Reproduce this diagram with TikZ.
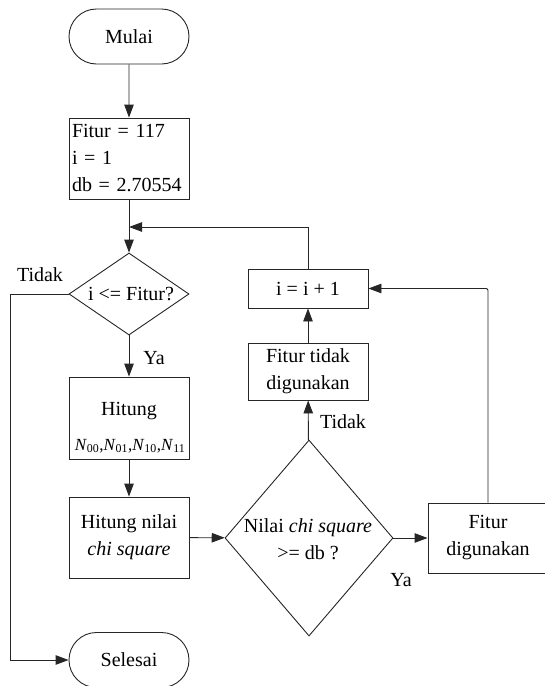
\documentclass[tikz,border=0pt]{standalone}
\usepackage{fontspec}
\setmainfont{Liberation Serif}
\usetikzlibrary{shapes.geometric,shapes.misc,arrows.meta}
\begin{document}
\begin{tikzpicture}[x=1pt,y=-1pt,
  every node/.style={font=\fontsize{20}{27}\selectfont, inner sep=0pt},
  line/.style={draw=black!85, line width=0.9pt},
  arr/.style={line, -{Triangle[length=13pt,width=9.5pt]}},
  shp/.style={draw=black!85, line width=0.9pt},
  box/.style={shp, rectangle, minimum width=120pt, align=center},
  term/.style={shp, rounded rectangle, minimum width=120pt, minimum height=55pt},
  dec/.style={shp, diamond, inner sep=0pt},
  txt/.style={align=center}]
\useasboundingbox (0,0) rectangle (545,686);
% nodes
\node[term] (mulai) at (129,36.5) {Mulai};
\node[box, minimum height=81pt, text width=114pt, inner xsep=3pt, align=left] (init) at (129,158.5) {Fitur = 117\\ i = 1\\ db = 2.70554};
\coordinate (join) at (129,227);
\node[dec, minimum width=120pt, minimum height=82pt] (d1) at (129,294) {};
\node (d1t) at (131,294) {i <= Fitur?};
\node[box, minimum height=82pt] (hit) at (129,418) {};
\node (hitA) at (129,411) {Hitung};
\node (hitB) at (130,446) {\fontsize{17}{20}\selectfont\textit{N}\textsubscript{00},\textit{N}\textsubscript{01},\textit{N}\textsubscript{10},\textit{N}\textsubscript{11}};
\node[box, minimum height=81pt] (hn) at (129,537.5) {Hitung nilai\\\textit{chi square}};
\node[dec, minimum width=168pt, minimum height=196pt] (d2) at (309,538) {};
\node[txt] (d2t) at (308,539) {Nilai \textit{chi square}\\>= db ?};
\node[box, minimum height=70pt] (fd) at (488,538) {Fitur\\digunakan};
\node[box, minimum height=57pt] (ftd) at (308,371.5) {Fitur tidak\\digunakan};
\node[box, minimum height=39pt] (inc) at (308,288.5) {i = i + 1};
\node[term] (sel) at (129,660) {Selesai};
% labels
\node (tid1) at (40,275) {Tidak};
\node (ya1) at (154,358) {Ya};
\node (tid2) at (343,422) {Tidak};
\node (ya2) at (401,580) {Ya};
% connectors
\coordinate (lft) at (10,294);
\draw[arr] (mulai) -- (init);
\draw[arr] (init) -- (d1);
\draw[arr] (inc.north) |- (join);
\draw[arr] (d1) -- (hit);
\draw[arr] (d1.west) -- (lft) |- (sel.west);
\draw[arr] (hit) -- (hn);
\draw[arr] (hn) -- (d2);
\draw[arr] (d2) -- (fd);
\draw[arr] (d2) -- (ftd);
\draw[arr] (ftd) -- (inc);
\draw[arr, rounded corners=2pt] (fd.north) |- (inc.east);
\end{tikzpicture}
\end{document}
